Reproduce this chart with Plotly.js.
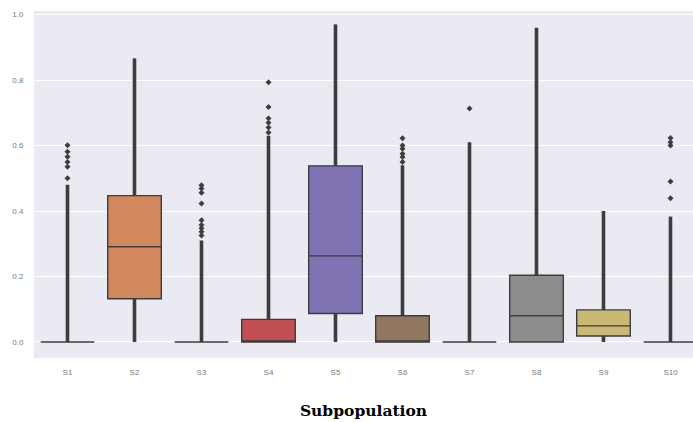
<!DOCTYPE html>
<html>
<head>
<meta charset="utf-8">
<script src="https://cdn.plot.ly/plotly-3.0.1.min.js"></script>
<style>html,body{margin:0;padding:0;background:#fff;}#chart{width:693px;height:422px;}</style>
</head>
<body>
<div id="chart"></div>
<script>
// ---- data ----
var categories = ['S1','S2','S3','S4','S5','S6','S7','S8','S9','S10'];
var boxColors  = ['#4C72B0','#D3875C','#55A868','#C24F53','#8172B3','#917760','#DA8BC3','#8C8C8C','#CAB875','#64B5CD'];
var q1         = [0, 0.132, 0, 0,     0.087, 0,     0, 0,     0.018, 0];
var median     = [0, 0.291, 0, 0,     0.263, 0,     0, 0.080, 0.049, 0];
var q3         = [0, 0.447, 0, 0.069, 0.538, 0.080, 0, 0.204, 0.098, 0];
var lowerFence = [0, 0,     0, 0,     0,     0,     0, 0,     0,     0];
var upperFence = [0, 0.866, 0, 0.172, 0.970, 0.200, 0, 0.510, 0.218, 0];
// whisker + densely packed outliers form a continuous column
var columnLow  = [0, 0,     0, 0,     0,     0,     0, 0,     0,     0];
var columnHigh = [0.480, 0.866, 0.310, 0.630, 0.970, 0.540, 0.610, 0.960, 0.400, 0.383];
// isolated outliers
var outlierCat = ['S1','S1','S1','S1','S1','S1',
                  'S3','S3','S3','S3','S3','S3','S3','S3','S3',
                  'S4','S4','S4','S4','S4','S4',
                  'S6','S6','S6','S6','S6','S6',
                  'S7',
                  'S10','S10','S10','S10','S10'];
var outlierVal = [0.500,0.535,0.550,0.566,0.581,0.601,
                  0.325,0.337,0.347,0.357,0.372,0.423,0.456,0.469,0.479,
                  0.640,0.655,0.670,0.683,0.718,0.793,
                  0.550,0.565,0.575,0.590,0.600,0.622,
                  0.713,
                  0.439,0.490,0.600,0.610,0.623];
var yTicks = [0, 0.2, 0.4, 0.6, 0.8, 1.0];

var edge = '#3d3d3d';
var traces = [];
categories.forEach(function(c, i){
  traces.push({
    type:'box', x:[c], q1:[q1[i]], median:[median[i]], q3:[q3[i]],
    lowerfence:[lowerFence[i]], upperfence:[upperFence[i]],
    width:0.8, whiskerwidth:0, boxpoints:false,
    fillcolor: boxColors[i], line:{color:edge, width:1.4},
    showlegend:false, hoverinfo:'skip'
  });
});
var cx = [], cy = [];
categories.forEach(function(c, i){
  cx.push(c, c, null); cy.push(q3[i], columnHigh[i], null);
  if (q1[i] > columnLow[i]) { cx.push(c, c, null); cy.push(columnLow[i], q1[i], null); }
});
traces.push({type:'scatter', mode:'lines', x:cx, y:cy, line:{color:edge, width:3.6},
             connectgaps:false, showlegend:false, hoverinfo:'skip'});
traces.push({type:'scatter', mode:'markers', x:outlierCat, y:outlierVal,
             marker:{symbol:'diamond', size:4.6, color:edge}, showlegend:false, hoverinfo:'skip'});

var layout = {
  width:693, height:422,
  margin:{l:34, r:0, t:11, b:64},
  paper_bgcolor:'#ffffff', plot_bgcolor:'#EAEAF2',
  showlegend:false, boxmode:'overlay',
  xaxis:{type:'category', categoryorder:'array', categoryarray:categories,
         range:[-0.5, 9.336], showgrid:false, zeroline:false, showline:false,
         ticks:'outside', ticklen:6, tickcolor:'rgba(0,0,0,0)',
         tickfont:{family:'Liberation Sans, Arial, sans-serif', size:8, color:'#7a7a7a'},
         title:{text:'Subpopulation', standoff:29,
                font:{family:'DejaVu Serif, serif', size:15.5, color:'#000', weight:'bold'}}},
  yaxis:{range:[-0.049, 1.011], tickvals:yTicks, tickformat:'.1f',
         showgrid:true, gridcolor:'#ffffff', gridwidth:1, zeroline:false, showline:false,
         ticks:'outside', ticklen:8, tickcolor:'rgba(0,0,0,0)',
         tickfont:{family:'Liberation Sans, Arial, sans-serif', size:8, color:'#7a7a7a'}},
  font:{family:'Liberation Sans, Arial, sans-serif'}
};
Plotly.newPlot('chart', traces, layout, {staticPlot:true, displayModeBar:false});
</script>
</body>
</html>
